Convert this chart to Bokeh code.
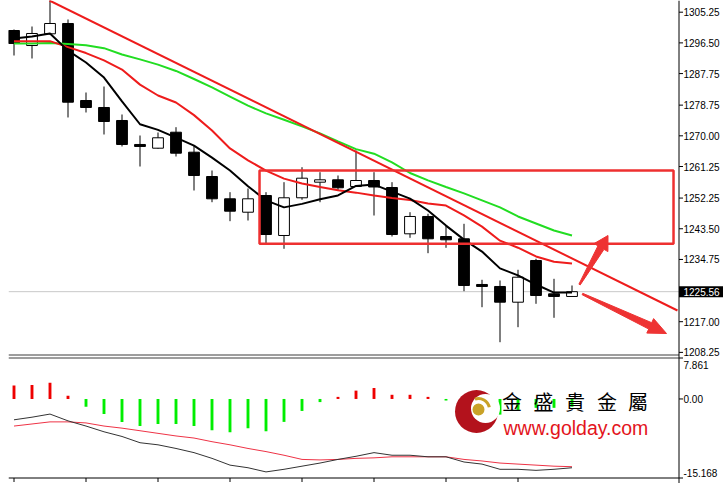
import math
from bokeh.plotting import figure
from bokeh.models import Range1d, ColumnDataSource
from bokeh.embed import file_html
from bokeh.resources import INLINE
from bokeh.core.properties import value

# ---------------- data ----------------
opens  = [1300.03, 1295.75, 1299.09, 1302.03, 1280.07, 1278.08, 1274.37, 1267.53,
          1266.47, 1271.03, 1265.33, 1258.40, 1252.04, 1248.22, 1252.98, 1241.58,
          1252.33, 1256.78, 1257.46, 1255.55, 1257.26, 1255.26, 1242.06, 1247.00,
          1241.29, 1240.64, 1227.61, 1227.04, 1222.56, 1234.45, 1224.95, 1224.19]
highs  = [1300.32, 1301.17, 1309.50, 1303.17, 1282.35, 1284.06, 1276.08, 1270.09,
          1270.95, 1272.46, 1267.24, 1260.11, 1253.93, 1254.98, 1253.93, 1256.78,
          1261.05, 1259.63, 1258.69, 1265.82, 1259.63, 1256.78, 1248.22, 1247.77,
          1244.43, 1244.91, 1228.95, 1228.75, 1231.80, 1234.94, 1229.23, 1227.32]
lows   = [1292.90, 1292.05, 1298.90, 1275.23, 1276.65, 1270.38, 1266.96, 1261.25,
          1266.30, 1264.10, 1254.41, 1251.07, 1245.66, 1245.85, 1239.21, 1237.79,
          1251.76, 1251.07, 1254.41, 1255.40, 1247.28, 1241.29, 1240.92, 1236.53,
          1238.07, 1225.70, 1221.13, 1211.15, 1215.43, 1222.10, 1218.11, 1224.10]
closes = [1296.33, 1299.18, 1302.03, 1279.59, 1278.08, 1274.08, 1267.53, 1266.96,
          1269.44, 1265.05, 1258.69, 1252.04, 1248.51, 1252.04, 1241.86, 1252.33,
          1257.92, 1257.46, 1255.18, 1257.26, 1255.41, 1241.86, 1247.00, 1240.64,
          1240.35, 1227.32, 1227.04, 1222.56, 1229.69, 1224.47, 1224.19, 1225.56]

ma_fast = [1297.75, 1298.3, 1299.2, 1294.3, 1290.9, 1286.6, 1279.8, 1273.3,
           1271.7, 1269.5, 1267.2, 1263.8, 1260.1, 1255.6, 1251.6, 1249.6,
           1250.6, 1251.9, 1253.0, 1255.7, 1256.1, 1254.1, 1252.1, 1248.7,
           1244.4, 1240.4, 1237.0, 1232.2, 1230.2, 1227.6, 1225.3, 1225.3]
ma_mid  = [1297.0, 1297.0, 1297.0, 1295.3, 1293.6, 1291.5, 1288.9, 1284.6,
           1281.5, 1279.5, 1275.9, 1271.5, 1266.4, 1263.0, 1260.1, 1257.8,
           1256.4, 1255.4, 1254.5, 1253.8, 1253.0, 1252.3, 1251.7, 1250.7,
           1250.1, 1247.3, 1244.1, 1240.1, 1238.1, 1235.6, 1234.1, 1233.6]
ma_slow = [1296.3, 1296.3, 1296.5, 1296.2, 1295.8, 1295.0, 1293.2, 1291.8,
           1290.3, 1288.5, 1286.2, 1283.8, 1281.2, 1278.6, 1276.4, 1274.6,
           1272.7, 1270.7, 1268.4, 1266.2, 1264.9, 1262.4, 1259.4, 1257.3,
           1255.4, 1253.6, 1251.6, 1249.6, 1247.0, 1245.0, 1243.0, 1241.6]

macd_hist   = [2.6, 2.7, 3.1, 0.6, -1.5, -2.9, -4.4, -5.2, -4.8, -4.8, -5.2, -6.0,
               -6.4, -5.6, -6.2, -4.4, -2.3, -0.6, 0.4, 1.6, 2.1, 0.8, 0.8, 0.4,
               -0.3, -1.5, -2.4, -3.0, -2.1, -1.7, -1.7, -1.5]
macd_main   = [-4.0, -3.5, -2.9, -4.2, -5.2, -6.3, -7.2, -8.4, -8.8, -9.5, -10.3, -11.4,
               -12.7, -13.2, -14.0, -13.5, -12.9, -12.3, -11.6, -11.0, -10.3, -10.8, -10.8, -11.1,
               -11.1, -12.1, -12.5, -13.5, -13.5, -13.7, -13.5, -13.2]
macd_signal = [-5.2, -4.8, -4.4, -4.4, -4.6, -5.2, -5.6, -6.1, -6.6, -7.1, -7.5, -8.2,
               -8.8, -9.5, -10.1, -10.8, -11.6, -11.7, -11.6, -11.4, -11.3, -11.1, -11.1, -11.1,
               -11.1, -11.6, -11.9, -12.3, -12.5, -12.7, -12.9, -13.0]

price_ticks = [1305.25, 1296.50, 1287.75, 1278.75, 1270.00, 1261.25,
               1252.25, 1243.50, 1234.75, 1217.00, 1208.25]
macd_ticks = [7.861, 0.0, -15.168]
macd_labels = ["7.861", "0.00", "-15.168"]
macd_top, macd_bottom = 7.861, -15.168
last_price = 1225.56
time_ticks = [0, 4, 8, 12, 16, 20, 24, 28]

trend_x = [1.97, 36.86]          # hand-drawn trend line (bar index, price)
trend_y = [1308.59, 1220.19]
box_x = [13.64, 36.64]           # hand-drawn rectangle
box_y = [1239.2, 1260.1]
arrow_up   = [(31.42, 1227.60), (33.00, 1241.58)]   # tail, tip
arrow_down = [(31.58, 1224.89), (36.25, 1213.63)]

# ---------------- geometry ----------------
W, H = 723, 483
LEFT = 8                       # frame starts 8px from the page's left edge
PX_PER_BAR = 18.0
PX_PER_PRICE = 3.507
X0 = -0.3056                    # bar index at the frame's left edge
Y_TOP = 1308.586                # price at the top edge
AXIS_PX = 678.5                 # page x of the price axis line
PANEL2_TOP_PX, PANEL2_BOT_PX = 357.5, 477.5
k_macd = (PANEL2_BOT_PX - PANEL2_TOP_PX) / (macd_top - macd_bottom)

def X(px):   # page pixel -> bar index
    return X0 + (px - LEFT) / PX_PER_BAR

def Y(py):   # page pixel -> price
    return Y_TOP - py / PX_PER_PRICE

def to_px(x, y):
    return (LEFT + (x - X0) * PX_PER_BAR, (Y_TOP - y) * PX_PER_PRICE)

p = figure(width=W - LEFT, height=H,
           x_range=Range1d(X0, X(W)), y_range=Range1d(Y(H), Y_TOP),
           x_axis_location=None, y_axis_location=None,
           output_backend="svg", toolbar_location=None,
           min_border_left=0, min_border_right=0, min_border_top=0, min_border_bottom=0)
p.extra_y_ranges = {"macd": Range1d(macd_bottom - (H - PANEL2_BOT_PX) / k_macd,
                                    macd_top + PANEL2_TOP_PX / k_macd)}
p.outline_line_color = None
p.grid.visible = False
p.background_fill_color = "white"
p.border_fill_color = "white"
p.styles = {"margin-left": f"{LEFT}px"}

xl, xr = X(LEFT), X(AXIS_PX)

# last price line
p.segment([xl], [last_price], [xr], [last_price], line_color="#c8c8c8", line_width=1)

# ---- candles ----
idx = list(range(len(opens)))
src = ColumnDataSource(dict(
    x=idx, o=opens, h=highs, l=lows, c=closes,
    top=[max(a, b) for a, b in zip(opens, closes)],
    bot=[min(a, b) for a, b in zip(opens, closes)],
    fill=["white" if c >= o else "black" for o, c in zip(opens, closes)],
))
p.segment(x0="x", y0="h", x1="x", y1="l", source=src, line_color="black", line_width=1)
p.vbar(x="x", top="top", bottom="bot", width=0.6, source=src,
       fill_color="fill", line_color="black", line_width=1)

# ---- moving averages & trend line ----
p.line(idx, ma_slow, line_color="#22dd22", line_width=2)
p.line(idx, ma_mid, line_color="#ee1c1c", line_width=2)
p.line(idx, ma_fast, line_color="black", line_width=2)
p.line(trend_x, trend_y, line_color="#ee1c1c", line_width=2)

# rectangle
p.quad(left=[box_x[0]], right=[box_x[1]], bottom=[box_y[0]], top=[box_y[1]],
       fill_color=None, line_color="#ee3030", line_width=2.5)

# arrows
def arrow_poly(tail, tip, head_len, head_half, w0, w1):
    tx, ty = to_px(*tail)
    px_, py_ = to_px(*tip)
    dx, dy = px_ - tx, py_ - ty
    L = math.hypot(dx, dy)
    dx, dy = dx / L, dy / L
    nx, ny = -dy, dx
    bx, by = px_ - head_len * dx, py_ - head_len * dy
    pts = [(tx + nx * w0 / 2, ty + ny * w0 / 2),
           (bx + nx * w1 / 2, by + ny * w1 / 2),
           (bx + nx * head_half, by + ny * head_half),
           (px_, py_),
           (bx - nx * head_half, by - ny * head_half),
           (bx - nx * w1 / 2, by - ny * w1 / 2),
           (tx - nx * w0 / 2, ty - ny * w0 / 2)]
    return [X(a) for a, b in pts], [Y(b) for a, b in pts]

for tail, tip, hl in [(arrow_up[0], arrow_up[1], 14), (arrow_down[0], arrow_down[1], 18)]:
    xs, ys = arrow_poly(tail, tip, hl, 8, 1.5, 7)
    p.patch(xs, ys, fill_color="#ee3333", line_color="#ee3333", line_width=1)

# ---- MACD panel ----
hsrc = ColumnDataSource(dict(x=idx, top=macd_hist, bottom=[0] * len(idx),
                             color=["#ee0000" if v > 0 else "#00ee00" for v in macd_hist]))
p.vbar(x="x", top="top", bottom="bottom", width=0.16, source=hsrc,
       fill_color="color", line_color=None, y_range_name="macd")
p.line(idx, macd_signal, line_color="#ee3346", line_width=1, y_range_name="macd")
p.line(idx, macd_main, line_color="#333333", line_width=1, y_range_name="macd")

# ---- logo ----
p.scatter([X(476)], [Y(411)], size=43, marker="circle", fill_color="#b3121c", line_color=None)
p.scatter([X(485)], [Y(408)], size=29, marker="circle", fill_color="white", line_color=None)
p.scatter([X(478)], [Y(409)], size=12, marker="circle", fill_color="#c9a227", line_color=None)
p.arc([X(478)], [Y(409)], radius=11, radius_units="screen", start_angle=0.2, end_angle=1.9,
      line_color="#c9a227", line_width=3)

cn_chars = ["金", "盛", "貴", "金", "屬"]
cn_px = [511.5, 543, 574.5, 606.5, 637.5]
p.text([X(v) for v in cn_px], [Y(401)] * 5, text=cn_chars,
       text_font=value("Noto Sans CJK TC"), text_font_size="20px",
       text_align="center", text_baseline="middle", text_color="black")
p.text([X(503)], [Y(427)], text=["www.golday.com"],
       text_font=value("Liberation Sans"), text_font_size="19.5px",
       text_align="left", text_baseline="alphabetic", text_color="#e3141c")

# ---- frame lines: panel separator, bottom time axis, right price axis ----
for py in (354.5, 357.5):
    p.segment([xl], [Y(py)], [xr], [Y(py)], line_color="#3c3c3c", line_width=1)
p.segment([xl], [macd_bottom], [xr], [macd_bottom], line_color="black", line_width=1,
          y_range_name="macd")
p.segment(time_ticks, [macd_bottom] * len(time_ticks), time_ticks,
          [macd_bottom - 4 / k_macd] * len(time_ticks),
          line_color="black", line_width=1, y_range_name="macd")
p.segment([xr], [Y(0)], [xr], [Y(H)], line_color="black", line_width=1)

tick_len = 4 / PX_PER_BAR
p.segment([xr] * len(price_ticks), price_ticks, [xr + tick_len] * len(price_ticks), price_ticks,
          line_color="black", line_width=1)
p.segment([xr] * len(macd_ticks), macd_ticks, [xr + tick_len] * len(macd_ticks), macd_ticks,
          line_color="black", line_width=1, y_range_name="macd")
lab_x = X(683)
p.text([lab_x] * len(price_ticks), price_ticks, text=[f"{t:.2f}" for t in price_ticks],
       text_font=value("Liberation Sans"), text_font_size="10px", text_color="black",
       text_align="left", text_baseline="middle")
p.text([lab_x] * len(macd_ticks), macd_ticks, text=macd_labels,
       y_offset=[6.5, 0, -5.5],
       text_font=value("Liberation Sans"), text_font_size="10px", text_color="black",
       text_align="left", text_baseline="middle", y_range_name="macd")

# ---- last price tag ----
half = 5.5 / PX_PER_PRICE
p.quad(left=[xr], right=[X(W)], bottom=[last_price - half], top=[last_price + half],
       fill_color="black", line_color=None)
p.text([lab_x], [last_price], text=[f"{last_price:.2f}"],
       text_font=value("Liberation Sans"), text_font_size="10px", text_color="white",
       text_align="left", text_baseline="middle")

open("out.html", "w").write(file_html(p, INLINE))
